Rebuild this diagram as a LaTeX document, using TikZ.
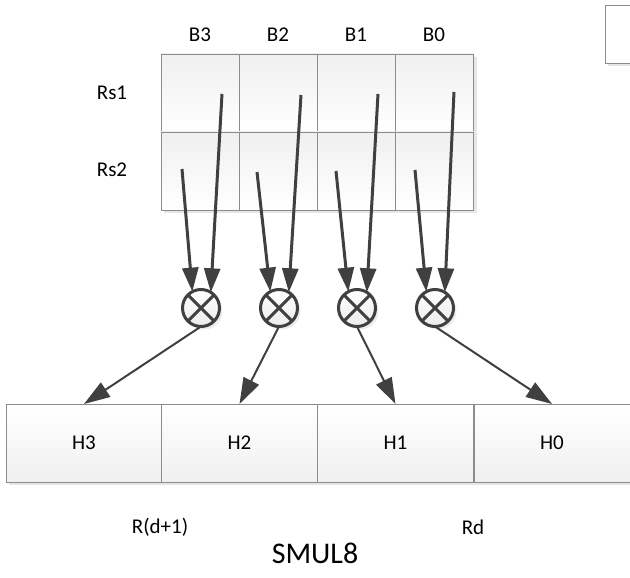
\documentclass[tikz,border=0pt]{standalone}
\usepackage{fontspec}
\setmainfont{Carlito}
\usetikzlibrary{arrows.meta,shadows}
\definecolor{arrowgray}{HTML}{404040}
\definecolor{boxgray}{HTML}{8C8C8C}

\begin{document}
\begin{tikzpicture}[x=1pt,y=-1pt]
\tikzstyle{every node}+=[inner sep=0pt, outer sep=0pt]
\tikzstyle{lbl}=[font=\fontsize{21}{24}\selectfont]
\tikzstyle{cell}=[draw=boxgray, line width=0.9pt, top color=gray!12, bottom color=white,
  minimum width=78pt, minimum height=78pt,
  drop shadow={shadow xshift=3pt, shadow yshift=-3pt, opacity=0.2}]
\tikzstyle{reg}=[cell, top color=white, bottom color=gray!12, minimum width=156pt,
  font=\fontsize{21}{24}\selectfont]
\tikzstyle{mul}=[circle, draw=arrowgray, line width=3pt, minimum size=37pt,
  top color=white, bottom color=gray!15,
  drop shadow={shadow xshift=3pt, shadow yshift=-3pt, opacity=0.15},
  path picture={\draw[arrowgray, line width=3pt]
    (path picture bounding box.north west) -- (path picture bounding box.south east)
    (path picture bounding box.north east) -- (path picture bounding box.south west);}]
\tikzstyle{inarr}=[draw=arrowgray, line width=3pt, -{Triangle[length=24pt,width=16pt]}]
\tikzstyle{outarr}=[draw=arrowgray, line width=2pt, -{Triangle[length=26pt,width=17pt]}]
\clip (0,0) rectangle (630,578);
% source register, two rows of four bytes
\node[cell] (s1b3) at (200,93) {};
\node[cell] (s1b2) at (278,93) {};
\node[cell] (s1b1) at (356,93) {};
\node[cell] (s1b0) at (434.5,93) {};
\node[cell] (s2b3) at (200,171) {};
\node[cell] (s2b2) at (278,171) {};
\node[cell] (s2b1) at (356,171) {};
\node[cell] (s2b0) at (434.5,171) {};
\node[cell, top color=white, bottom color=white, minimum width=40pt, minimum height=58pt] (spare) at (625,34) {};
\node[lbl] (b3) at (200,35) {B3};
\node[lbl] (b2) at (278,35) {B2};
\node[lbl] (b1) at (356,35) {B1};
\node[lbl] (b0) at (434,35) {B0};
\node[lbl] (rs1) at (112,93) {Rs1};
\node[lbl] (rs2) at (112,170) {Rs2};
% multipliers
\node[mul] (c3) at (201,308) {};
\node[mul] (c2) at (279,308) {};
\node[mul] (c1) at (357,308) {};
\node[mul] (c0) at (435,308) {};
% result halves
\node[reg] (h3) at (84,443) {H3};
\node[reg] (h2) at (239.5,443) {H2};
\node[reg] (h1) at (395.5,443) {H1};
\node[reg] (h0) at (552,443) {H0};
\node[lbl] (rdh) at (160,527) {R(d+1)};
\node[lbl] (rdl) at (473,527) {Rd};
\node[font=\fontsize{30}{33}\selectfont] (title) at (315,553) {SMUL8};
% arrow tails inside the cells
\coordinate (t13) at (222,94);
\coordinate (t23) at (182,169);
\coordinate (t12) at (301,95);
\coordinate (t22) at (257,172);
\coordinate (t11) at (378,94);
\coordinate (t21) at (336,171);
\coordinate (t10) at (454,92);
\coordinate (t20) at (415,170);
\draw[inarr] (t23) -- (c3.118);
\draw[inarr] (t13) -- (c3.58);
\draw[inarr] (t22) -- (c2.118);
\draw[inarr] (t12) -- (c2.58);
\draw[inarr] (t21) -- (c1.118);
\draw[inarr] (t11) -- (c1.58);
\draw[inarr] (t20) -- (c0.118);
\draw[inarr] (t10) -- (c0.58);
\draw[outarr] (c3.south) -- (h3.north);
\draw[outarr] (c2.south) -- (h2.north);
\draw[outarr] (c1.south) -- (h1.north);
\draw[outarr] (c0.south) -- (h0.north);
\end{tikzpicture}
\end{document}
